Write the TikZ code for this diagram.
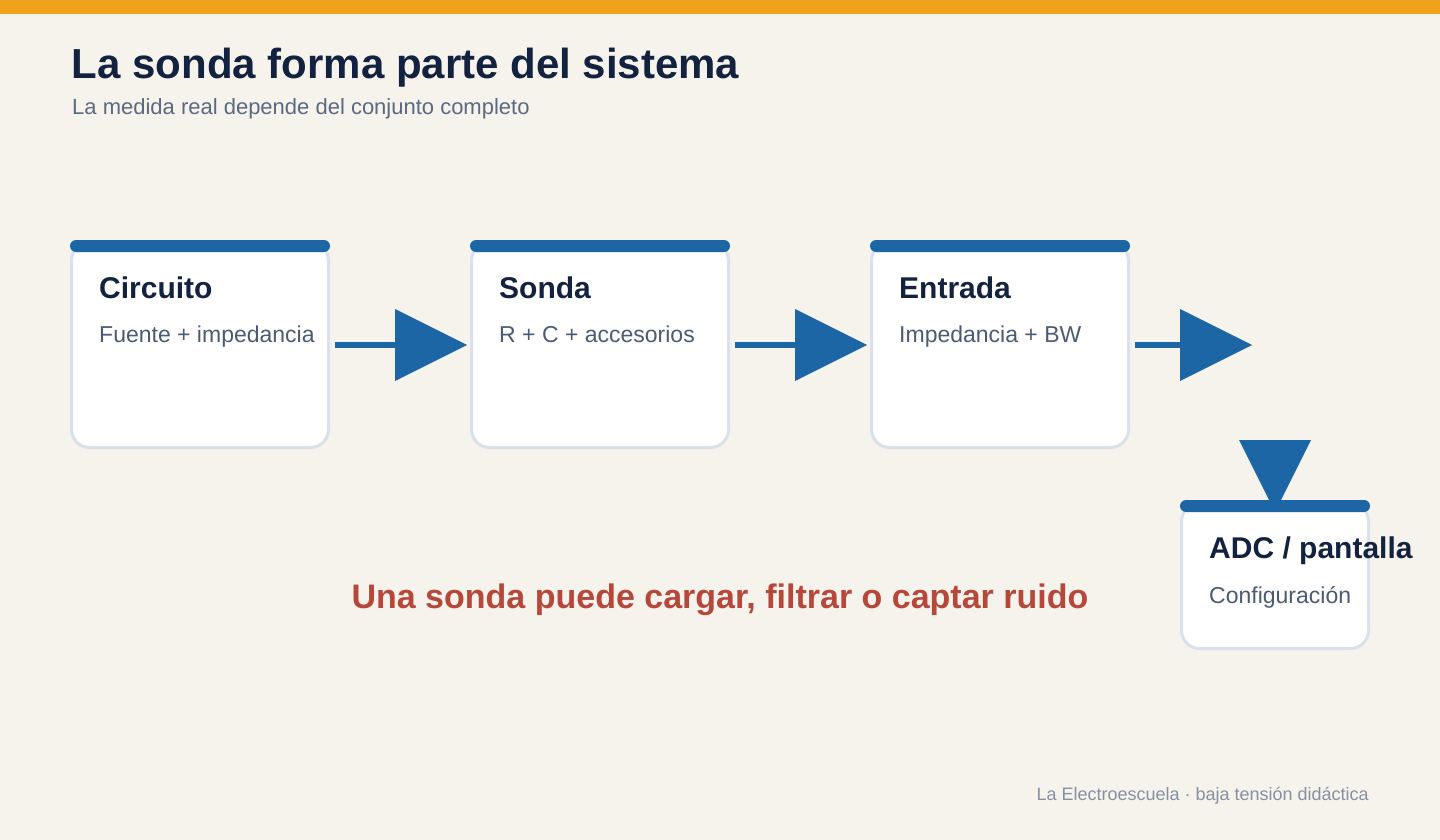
\documentclass[tikz,border=0pt]{standalone}
\usepackage{fontspec}
\setmainfont{Liberation Sans}
\usetikzlibrary{arrows.meta}
\definecolor{paper}{HTML}{F6F3EC}
\definecolor{topbar}{HTML}{F0A21C}
\definecolor{ink}{HTML}{13223F}
\definecolor{slate}{HTML}{4B5B72}
\definecolor{subgray}{HTML}{5A6A80}
\definecolor{cardline}{HTML}{D9E1EB}
\definecolor{flowblue}{HTML}{1D66A6}
\definecolor{warn}{HTML}{B5483B}
\definecolor{footgray}{HTML}{8591A2}
\begin{document}
\begin{tikzpicture}[x=1pt,y=-1pt,
  card/.style={draw=cardline,line width=3pt,fill=white,rounded corners=18pt,minimum width=257pt,minimum height=205pt,inner sep=0pt},
  cardbar/.style={fill=flowblue,rounded corners=6pt},
  cardtitle/.style={anchor=base west,inner sep=0pt,text=ink,font=\fontsize{30}{36}\selectfont\bfseries},
  cardtext/.style={anchor=base west,inner sep=0pt,text=slate,font=\fontsize{23}{27}\selectfont},
  flow/.style={draw=flowblue,line width=6pt,-{Triangle[length=72pt,width=72pt,line width=0pt]}}]
% background
\fill[paper] (0,0) rectangle (1440,840);
\fill[topbar] (0,0) rectangle (1440,14);
% header
\node[anchor=base west,inner sep=0pt,text=ink,font=\fontsize{42}{50}\selectfont\bfseries] (title) at (71.5,79) {La sonda forma parte del sistema};
\node[anchor=base west,inner sep=0pt,text=subgray,font=\fontsize{22}{26}\selectfont] (subtitle) at (72,115) {La medida real depende del conjunto completo};
% cards
\node[card] (circ) at (200,345) {};
\node[card] (sonda) at (600,345) {};
\node[card] (entr) at (1000,345) {};
\node[card,minimum width=187pt,minimum height=145pt] (adc) at (1275,576) {};
\node[cardtitle] (circ-t) at (99,298) {Circuito};
\node[cardtext] (circ-d) at (99,342) {Fuente + impedancia};
\node[cardtitle] (sonda-t) at (499,298) {Sonda};
\node[cardtext] (sonda-d) at (499,342) {R + C + accesorios};
\node[cardtitle] (entr-t) at (899,298) {Entrada};
\node[cardtext] (entr-d) at (899,342) {Impedancia + BW};
\node[cardtitle] (adc-t) at (1209,558) {ADC / pantalla};
\node[cardtext] (adc-d) at (1209,603) {Configuración};
% flow
\coordinate (out) at (1252,345);
\coordinate (down) at (1275,440);
\draw[flow,shorten <=5pt,shorten >=3pt] (circ.east) -- (sonda.west);
\draw[flow,shorten <=5pt,shorten >=3pt] (sonda.east) -- (entr.west);
\draw[flow,shorten <=5pt] (entr.east) -- (out);
\draw[flow] (down) -- ([yshift=-10pt]adc.north);
% bars
\fill[cardbar] ([yshift=1pt]circ.north west) rectangle ([yshift=-11pt]circ.north east);
\fill[cardbar] ([yshift=1pt]sonda.north west) rectangle ([yshift=-11pt]sonda.north east);
\fill[cardbar] ([yshift=1pt]entr.north west) rectangle ([yshift=-11pt]entr.north east);
\fill[cardbar] ([yshift=2pt]adc.north west) rectangle ([yshift=-10pt]adc.north east);
% note
\node[anchor=base,inner sep=0pt,text=warn,font=\fontsize{34}{40}\selectfont\bfseries] (note) at (720,608) {Una sonda puede cargar, filtrar o captar ruido};
% footer
\node[anchor=base east,inner sep=0pt,text=footgray,font=\fontsize{18}{22}\selectfont] (foot) at (1369,800) {La Electroescuela · baja tensión didáctica};
\end{tikzpicture}
\end{document}
